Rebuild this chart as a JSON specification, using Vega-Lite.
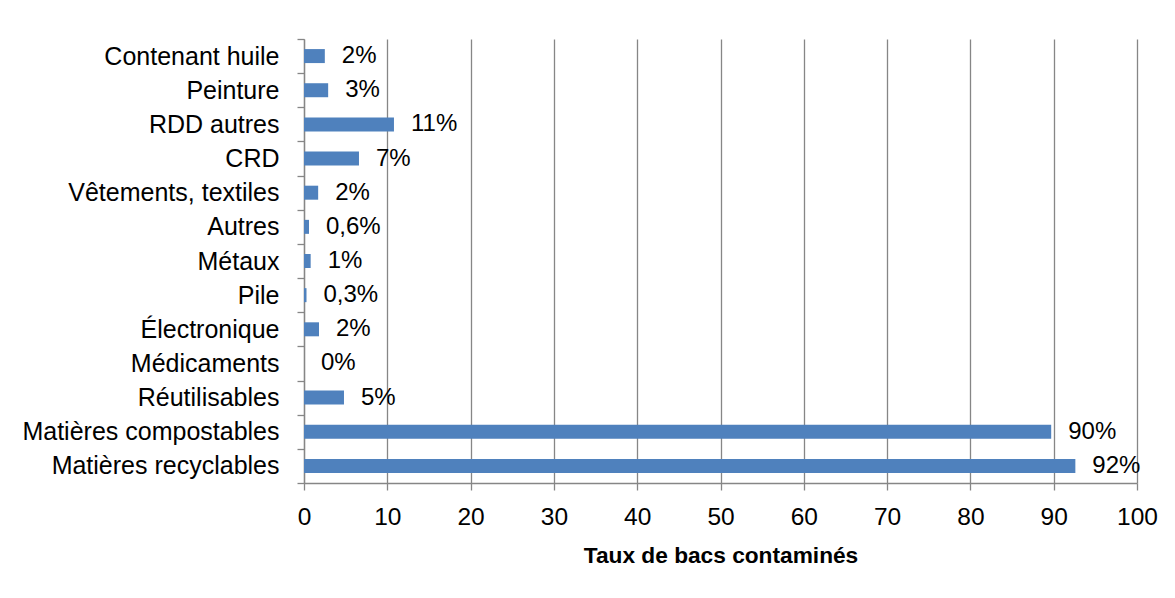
{
  "$schema": "https://vega.github.io/schema/vega-lite/v6.json",
  "width": 833,
  "height": 444,
  "autosize": {"type": "none"},
  "padding": {"left": 304, "top": 39, "right": 38, "bottom": 115},
  "background": "white",
  "config": {
    "view": {"stroke": null},
    "font": "Liberation Sans"
  },
  "data": {
    "values": [
      {"categorie": "Contenant huile", "taux": 2.5, "etiquette": "2%"},
      {"categorie": "Peinture", "taux": 2.9, "etiquette": "3%"},
      {"categorie": "RDD autres", "taux": 10.8, "etiquette": "11%"},
      {"categorie": "CRD", "taux": 6.6, "etiquette": "7%"},
      {"categorie": "Vêtements, textiles", "taux": 1.7, "etiquette": "2%"},
      {"categorie": "Autres", "taux": 0.6, "etiquette": "0,6%"},
      {"categorie": "Métaux", "taux": 0.8, "etiquette": "1%"},
      {"categorie": "Pile", "taux": 0.3, "etiquette": "0,3%"},
      {"categorie": "Électronique", "taux": 1.8, "etiquette": "2%"},
      {"categorie": "Médicaments", "taux": 0, "etiquette": "0%"},
      {"categorie": "Réutilisables", "taux": 4.8, "etiquette": "5%"},
      {"categorie": "Matières compostables", "taux": 89.7, "etiquette": "90%"},
      {"categorie": "Matières recyclables", "taux": 92.6, "etiquette": "92%"}
    ]
  },
  "encoding": {
    "y": {
      "field": "categorie",
      "type": "nominal",
      "sort": null,
      "scale": {"paddingInner": 0, "paddingOuter": 0},
      "axis": {
        "title": null,
        "tickBand": "extent",
        "tickSize": 7,
        "tickColor": "#868686",
        "tickWidth": 1.3,
        "domainColor": "#868686",
        "domainWidth": 1.3,
        "labelFont": "Liberation Sans",
        "labelFontSize": 25,
        "labelColor": "#000000",
        "labelPadding": 18,
        "labelLimit": 0,
        "grid": false
      }
    }
  },
  "layer": [
    {
      "mark": {"type": "bar", "color": "#4F81BD", "size": 14},
      "encoding": {
        "x": {
          "field": "taux",
          "type": "quantitative",
          "scale": {"domain": [0, 100], "nice": false},
          "axis": {
            "title": "Taux de bacs contaminés",
            "titleFont": "Liberation Sans",
            "titleFontSize": 22.7,
            "titleFontWeight": "bold",
            "titleColor": "#000000",
            "titlePadding": 16,
            "values": [0, 10, 20, 30, 40, 50, 60, 70, 80, 90, 100],
            "grid": true,
            "gridColor": "#868686",
            "gridWidth": 1.3,
            "tickSize": 7,
            "tickColor": "#868686",
            "tickWidth": 1.3,
            "domainColor": "#868686",
            "domainWidth": 1.3,
            "labelFont": "Liberation Sans",
            "labelFontSize": 24.5,
            "labelColor": "#000000",
            "labelPadding": 15,
            "labelFlush": false
          }
        }
      }
    },
    {
      "mark": {
        "type": "text",
        "align": "left",
        "baseline": "middle",
        "dx": 17,
        "font": "Liberation Sans",
        "fontSize": 24,
        "color": "#000000"
      },
      "encoding": {
        "x": {"field": "taux", "type": "quantitative"},
        "text": {"field": "etiquette", "type": "nominal"}
      }
    }
  ]
}
